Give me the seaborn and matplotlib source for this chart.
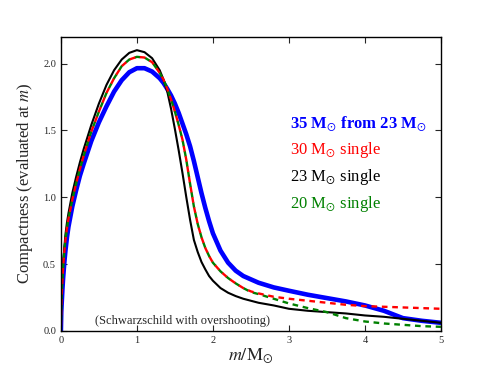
import pandas as pd
import matplotlib
matplotlib.use("Agg")
import matplotlib.pyplot as plt
import seaborn as sns

# mass coordinate m / Msun
m = [0, 0.005, 0.01, 0.02, 0.03, 0.045, 0.06, 0.08, 0.1, 0.15, 0.2, 0.25, 0.3,
     0.4, 0.5, 0.6, 0.7, 0.8, 0.9, 1.0, 1.1, 1.2, 1.3, 1.35, 1.4, 1.45, 1.5,
     1.55, 1.6, 1.65, 1.7, 1.75, 1.8, 1.85, 1.9, 1.95, 2.0, 2.1, 2.2, 2.3,
     2.4, 2.5, 2.6, 2.8, 3.0, 3.25, 3.5, 3.75, 4.0, 4.25, 4.5, 4.75, 5.0]

comp_35_from_23 = [0, 0.14, 0.2, 0.31, 0.40, 0.51, 0.60, 0.70, 0.78, 0.93, 1.05,
                   1.16, 1.25, 1.42, 1.56, 1.68, 1.79, 1.875, 1.935, 1.965,
                   1.965, 1.94, 1.89, 1.855, 1.81, 1.76, 1.70, 1.63, 1.55, 1.47,
                   1.38, 1.27, 1.15, 1.03, 0.92, 0.82, 0.73, 0.60, 0.51, 0.45,
                   0.41, 0.385, 0.36, 0.325, 0.30, 0.27, 0.245, 0.22, 0.19,
                   0.15, 0.095, 0.075, 0.06]

comp_30 = [0, 0.18, 0.26, 0.38, 0.48, 0.59, 0.68, 0.77, 0.84, 0.98, 1.10, 1.21,
           1.31, 1.49, 1.64, 1.78, 1.89, 1.98, 2.03, 2.05, 2.045, 2.01, 1.93,
           1.88, 1.81, 1.73, 1.64, 1.54, 1.43, 1.28, 1.10, 0.93, 0.80, 0.70,
           0.62, 0.56, 0.51, 0.445, 0.395, 0.355, 0.32, 0.295, 0.28, 0.255,
           0.24, 0.225, 0.21, 0.195, 0.185, 0.18, 0.175, 0.17, 0.165]

comp_23 = [0, 0.2, 0.28, 0.40, 0.50, 0.62, 0.72, 0.81, 0.88, 1.03, 1.15, 1.26,
           1.36, 1.54, 1.70, 1.84, 1.95, 2.03, 2.08, 2.10, 2.085, 2.04, 1.95,
           1.88, 1.79, 1.66, 1.51, 1.35, 1.18, 1.00, 0.83, 0.68, 0.59, 0.515,
           0.46, 0.41, 0.375, 0.32, 0.285, 0.26, 0.24, 0.225, 0.21, 0.19,
           0.165, 0.15, 0.14, 0.13, 0.115, 0.105, 0.09, 0.075, 0.06]

comp_20 = [0, 0.18, 0.26, 0.38, 0.48, 0.59, 0.68, 0.77, 0.84, 0.98, 1.10, 1.21,
           1.31, 1.49, 1.64, 1.78, 1.89, 1.98, 2.03, 2.05, 2.045, 2.01, 1.93,
           1.88, 1.81, 1.73, 1.64, 1.54, 1.43, 1.28, 1.10, 0.93, 0.80, 0.70,
           0.62, 0.56, 0.51, 0.445, 0.395, 0.355, 0.32, 0.29, 0.275, 0.24,
           0.205, 0.17, 0.14, 0.095, 0.07, 0.055, 0.045, 0.035, 0.03]

labels = [r"35 M$_{\odot}$ from 23 M$_{\odot}$", r"30 M$_{\odot}$ single",
          r"23 M$_{\odot}$ single", r"20 M$_{\odot}$ single"]
colors = ["blue", "red", "black", "green"]

df = pd.DataFrame({"m": m, "c35": comp_35_from_23, "c30": comp_30,
                   "c23": comp_23, "c20": comp_20})

sns.set_style("ticks")
plt.rcParams["font.family"] = ["Liberation Serif", "DejaVu Serif"]
plt.rcParams["mathtext.fontset"] = "stix"
plt.rcParams["xtick.direction"] = "in"
plt.rcParams["ytick.direction"] = "in"

fig = plt.figure(figsize=(4.91, 3.68), dpi=100)
ax = fig.add_axes([0.124, 0.101, 0.774, 0.799])

sns.lineplot(data=df, x="m", y="c35", ax=ax, color="blue", lw=3.3, sort=False)
sns.lineplot(data=df, x="m", y="c23", ax=ax, color="black", lw=1.5, sort=False)
sns.lineplot(data=df, x="m", y="c20", ax=ax, color="green", lw=1.7, sort=False,
             linestyle=(0, (2.4, 2.0)))
sns.lineplot(data=df, x="m", y="c30", ax=ax, color="red", lw=1.7, sort=False,
             linestyle=(2.2, (2.4, 2.0)))

ax.set_xlim(0, 5)
ax.set_ylim(0, 2.2)
ax.set_xticks([0, 1, 2, 3, 4, 5])
ax.set_yticks([0.0, 0.5, 1.0, 1.5, 2.0])
ax.set_yticklabels(["0.0", "0.5", "1.0", "1.5", "2.0"])
ax.tick_params(labelsize=7.5, top=True, right=True, length=4, width=0.8)
for sp in ax.spines.values():
    sp.set_linewidth(1.0)
    sp.set_color("black")

ax.set_xlabel(r"$m/\mathrm{M}_{\odot}$", fontsize=13, labelpad=1)
ax.set_ylabel(r"Compactness (evaluated at $m$)", fontsize=12, labelpad=6)

ys = [1.55, 1.35, 1.15, 0.95]
for lab, col, yy in zip(labels, colors, ys):
    ax.text(3.01, yy, lab, color=col, fontsize=12,
            fontweight="bold" if col == "blue" else "normal", va="center")

ax.text(1.6, 0.075, "(Schwarzschild with overshooting)", fontsize=9,
        ha="center", va="center")

fig.savefig("out.png", dpi=100)
